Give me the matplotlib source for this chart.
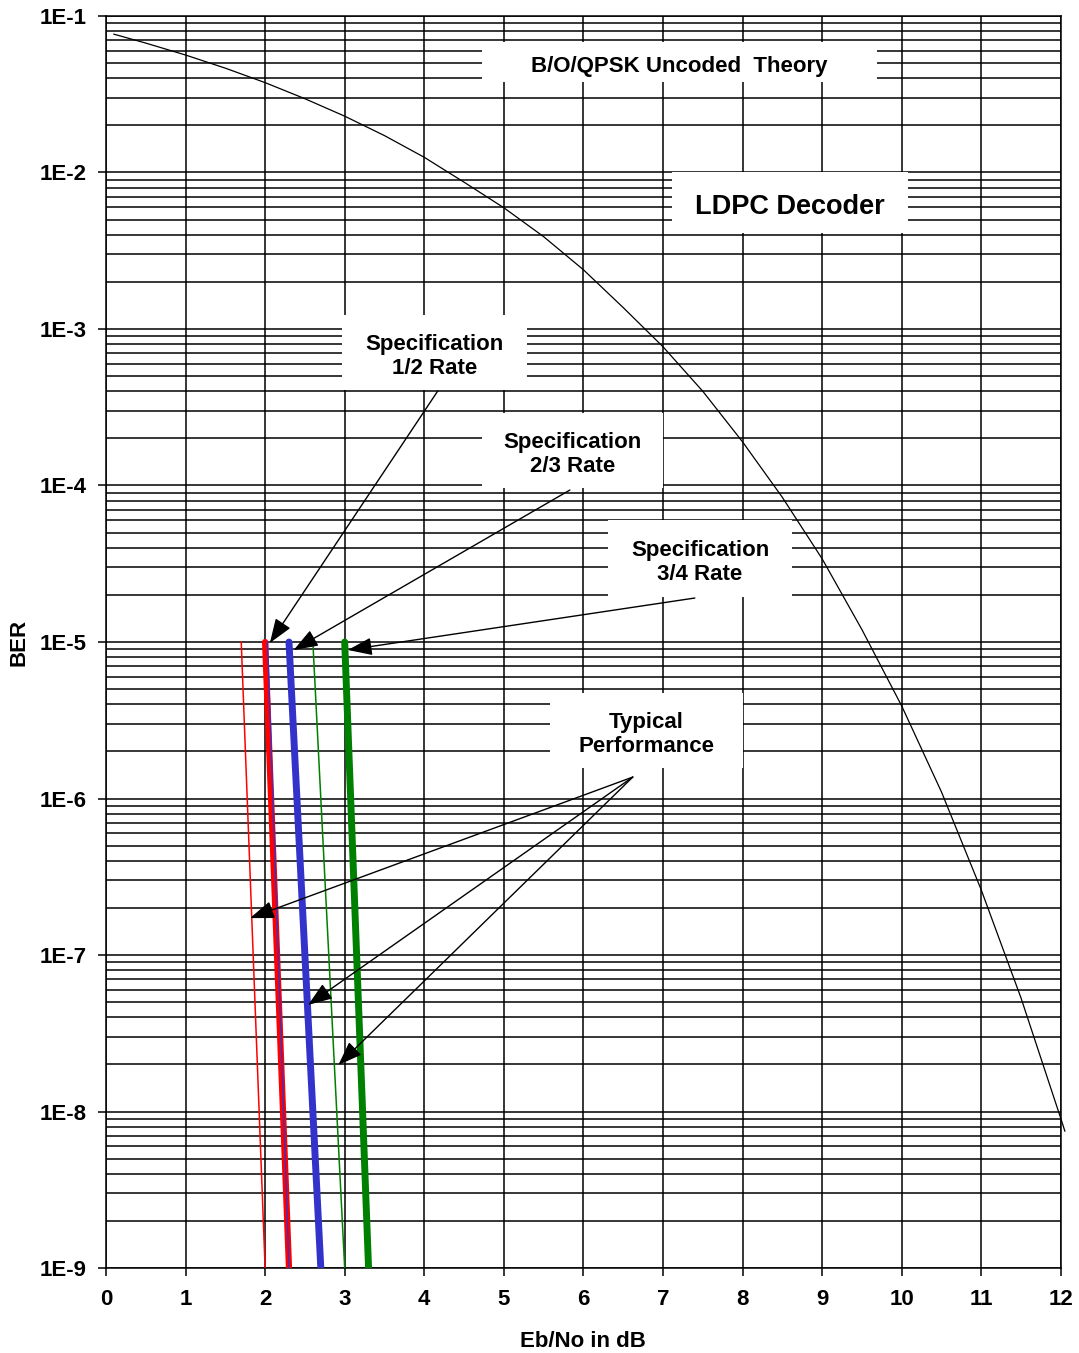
import numpy as np
import matplotlib
matplotlib.use('Agg')
import matplotlib.pyplot as plt
from matplotlib.patches import Rectangle
from matplotlib.ticker import FixedLocator, FuncFormatter, NullLocator

plt.rcParams['font.family'] = ['Liberation Sans', 'DejaVu Sans']
plt.rcParams['font.weight'] = 'bold'

# uncoded B/O/QPSK theory curve
theory_ebno = [0.1, 0.5, 1.0, 1.5, 2.0, 2.5, 3.0, 3.5, 4.0, 4.5, 5.0, 5.5, 6.0,
               6.5, 7.0, 7.5, 8.0, 8.5, 9.0, 9.5, 10.0, 10.5, 11.0, 11.5, 12.0, 12.05]
theory_ber = [0.0765, 0.0671, 0.0563, 0.0464, 0.0375, 0.0296, 0.0229, 0.0172, 0.0125,
              0.00867, 0.00595, 0.00389, 0.00239, 0.00137, 7.7e-4, 4.0e-4, 1.9e-4,
              8.4e-5, 3.4e-5, 1.2e-5, 3.9e-6, 1.1e-6, 2.6e-7, 5.3e-8, 9.0e-9, 7.5e-9]

# LDPC decoder lines (BER end points 1E-5 -> 1E-9)
line_ber = [1e-5, 1e-9]
half_typ = [1.70, 2.00]
half_spec = [2.00, 2.30]
half_blue = [2.03, 2.30]
twothird_spec = [2.30, 2.70]
threeq_typ = [2.60, 3.00]
threeq_spec = [3.00, 3.30]

ytick_vals = [1e-9, 1e-8, 1e-7, 1e-6, 1e-5, 1e-4, 1e-3, 1e-2, 1e-1]
xtick_vals = list(range(0, 13))

fig = plt.figure(figsize=(10.79, 13.53), dpi=100)
ax = fig.add_axes([0.0982, 0.0628, 0.885, 0.9254])

ax.set_yscale('log')
ax.set_xlim(0, 12)
ax.set_ylim(1e-9, 1e-1)

ax.yaxis.set_major_locator(FixedLocator(ytick_vals))
ax.yaxis.set_major_formatter(FuncFormatter(lambda v, p: "1E%d" % round(np.log10(v))))
ax.yaxis.set_minor_locator(matplotlib.ticker.LogLocator(base=10, subs=np.arange(2, 10)))
ax.yaxis.set_minor_formatter(matplotlib.ticker.NullFormatter())
ax.xaxis.set_major_locator(FixedLocator(xtick_vals))
ax.xaxis.set_minor_locator(NullLocator())

ax.set_axisbelow(True)
ax.grid(which='major', color='black', linewidth=1.1)
ax.grid(which='minor', axis='y', color='black', linewidth=1.1)
ax.tick_params(which='major', direction='out', length=6, width=1.1, labelsize=16)
ax.tick_params(axis='y', pad=8)
ax.tick_params(axis='x', pad=9)
ax.tick_params(which='minor', length=0)
for s in ax.spines.values():
    s.set_linewidth(1.1)

ax.set_xlabel("Eb/No in dB", fontsize=16, fontweight='bold', labelpad=15.5)
ax.set_ylabel("BER", fontsize=16, fontweight='bold', labelpad=7)

# data lines
ax.plot(theory_ebno, theory_ber, color='black', linewidth=0.9, clip_on=False, zorder=4)
ax.plot(half_typ, line_ber, color='#FF0000', linewidth=1.1, zorder=4)
ax.plot(half_spec, line_ber, color='#FF0000', linewidth=4.5, solid_capstyle='round', zorder=4)
ax.plot(half_blue, line_ber, color='#3333CC', linewidth=1.0, zorder=5)
ax.plot(twothird_spec, line_ber, color='#3333CC', linewidth=5.0, solid_capstyle='round', zorder=4)
ax.plot(threeq_typ, line_ber, color='#008000', linewidth=1.1, zorder=4)
ax.plot(threeq_spec, line_ber, color='#008000', linewidth=5.0, solid_capstyle='round', zorder=4)


def label_box(x0, x1, y0, y1, txt, size=16):
    ax.add_patch(Rectangle((x0, 10 ** y1), x1 - x0, 10 ** y0 - 10 ** y1,
                           facecolor='white', edgecolor='none', zorder=1.5))
    # text sits a few pixels below the box middle
    ax.text((x0 + x1) / 2, 10 ** ((y0 + y1) / 2 - 0.026), txt, ha='center', va='center',
            fontsize=size, fontweight='bold', linespacing=1.15, zorder=3)


label_box(4.72, 9.69, -1.166, -1.422, "B/O/QPSK Uncoded  Theory", 16)
label_box(7.11, 10.08, -1.997, -2.387, "LDPC Decoder", 19.5)
label_box(2.97, 5.29, -2.911, -3.390, "Specification\n1/2 Rate", 16)
label_box(4.72, 7.00, -3.537, -4.016, "Specification\n2/3 Rate", 16)
label_box(6.31, 8.62, -4.220, -4.712, "Specification\n3/4 Rate", 16)
label_box(5.58, 8.00, -5.326, -5.805, "Typical\nPerformance", 16)

arrow = dict(arrowstyle='-|>,head_length=0.6,head_width=0.22', color='black', lw=1.0,
             mutation_scale=25, shrinkA=0, shrinkB=0)


def pointer(tail, head):
    ax.annotate("", xy=(head[0], 10 ** head[1]), xytext=(tail[0], 10 ** tail[1]),
                arrowprops=arrow, zorder=6)


pointer((4.17, -3.396), (2.06, -5.006))
pointer((5.83, -4.029), (2.36, -5.051))
pointer((7.40, -4.719), (3.04, -5.051))
pointer((6.62, -5.863), (1.81, -6.764))
pointer((6.62, -5.863), (2.54, -7.319))
pointer((6.62, -5.863), (2.92, -7.703))

plt.savefig('out.png', dpi=100)
